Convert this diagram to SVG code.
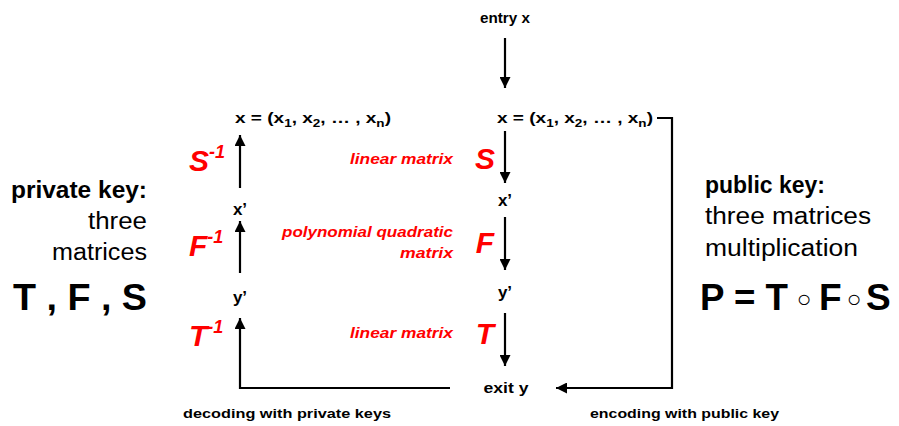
<svg xmlns="http://www.w3.org/2000/svg" width="899" height="426" viewBox="0 0 899 426">
<defs>
<style>
text{font-family:"Liberation Sans",Arial,sans-serif;}
.b{font-weight:bold;fill:#000;}
.lbl{font-size:15.5px;font-weight:bold;fill:#000;}
.pr{font-size:17px;font-weight:bold;fill:#000;}
.red{fill:#ff0000;font-weight:bold;font-style:italic;}
.rl{font-size:15px;}
.big{font-size:30px;}
.key{font-size:23px;}
.plain{font-size:23px;fill:#000;}
.huge{font-size:37px;font-weight:bold;fill:#000;}
.ring{font-size:24px;fill:#000;}
.cap{font-size:13.5px;font-weight:bold;fill:#000;}
.ln{stroke:#000;stroke-width:2.2;fill:none;}
</style>
<marker id="ah" viewBox="0 0 10 10" refX="10" refY="5" markerWidth="5" markerHeight="5" orient="auto" markerUnits="strokeWidth">
<path d="M0,0 L10,5 L0,10 z" fill="#000"/>
</marker>
</defs>
<rect width="899" height="426" fill="#fff"/>

<g id="connectors">
<line class="ln" x1="505" y1="38" x2="505" y2="88" marker-end="url(#ah)"/>
<line class="ln" x1="505" y1="131" x2="505" y2="183" marker-end="url(#ah)"/>
<line class="ln" x1="505" y1="217" x2="505" y2="270" marker-end="url(#ah)"/>
<line class="ln" x1="505" y1="313" x2="505" y2="366" marker-end="url(#ah)"/>
<polyline class="ln" points="657,118 672,118 672,388 556,388" marker-end="url(#ah)"/>
<polyline class="ln" points="450,388 240,388 240,318" marker-end="url(#ah)"/>
<line class="ln" x1="240" y1="273" x2="240" y2="221" marker-end="url(#ah)"/>
<line class="ln" x1="240" y1="188" x2="240" y2="135" marker-end="url(#ah)"/>
</g>

<g id="entry"><text class="lbl" x="505" y="23" text-anchor="middle" textLength="50" lengthAdjust="spacingAndGlyphs">entry x</text></g>
<g id="x-right"><text class="lbl" x="497" y="123" textLength="156" lengthAdjust="spacingAndGlyphs">x = (x<tspan font-size="11" dy="4">1</tspan><tspan dy="-4">, x</tspan><tspan font-size="11" dy="4">2</tspan><tspan dy="-4">, … , x</tspan><tspan font-size="11" dy="4">n</tspan><tspan dy="-4">)</tspan></text></g>
<g id="xp-right"><text class="pr" x="505" y="206" text-anchor="middle">x’</text></g>
<g id="yp-right"><text class="pr" x="505" y="298" text-anchor="middle">y’</text></g>
<g id="exit"><text class="lbl" x="506" y="393" text-anchor="middle" textLength="45" lengthAdjust="spacingAndGlyphs">exit y</text></g>

<g id="x-left"><text class="lbl" x="235" y="123" textLength="156" lengthAdjust="spacingAndGlyphs">x = (x<tspan font-size="11" dy="4">1</tspan><tspan dy="-4">, x</tspan><tspan font-size="11" dy="4">2</tspan><tspan dy="-4">, … , x</tspan><tspan font-size="11" dy="4">n</tspan><tspan dy="-4">)</tspan></text></g>
<g id="xp-left"><text class="pr" x="240" y="215" text-anchor="middle">x’</text></g>
<g id="yp-left"><text class="pr" x="240" y="303" text-anchor="middle">y’</text></g>

<g id="S"><text class="red big" x="485" y="169" text-anchor="middle">S</text></g>
<g id="F"><text class="red big" x="485" y="253" text-anchor="middle">F</text></g>
<g id="T"><text class="red big" x="485" y="344" text-anchor="middle">T</text></g>

<g id="lin1"><text class="red rl" x="453" y="164" text-anchor="end" textLength="103" lengthAdjust="spacingAndGlyphs">linear matrix</text></g>
<g id="poly"><text class="red rl" x="453" y="237" text-anchor="end" textLength="171" lengthAdjust="spacingAndGlyphs">polynomial quadratic</text>
<text class="red rl" x="453" y="258" text-anchor="end" textLength="53" lengthAdjust="spacingAndGlyphs">matrix</text></g>
<g id="lin2"><text class="red rl" x="453" y="338" text-anchor="end" textLength="103" lengthAdjust="spacingAndGlyphs">linear matrix</text></g>

<g id="Sinv"><text class="red big" x="189" y="171">S<tspan font-size="18" dy="-13">-1</tspan></text></g>
<g id="Finv"><text class="red big" x="189" y="256">F<tspan font-size="18" dy="-13">-1</tspan></text></g>
<g id="Tinv"><text class="red big" x="189" y="346">T<tspan font-size="18" dy="-13">-1</tspan></text></g>

<g id="private">
<text class="b key" x="147" y="198" text-anchor="end" textLength="136" lengthAdjust="spacingAndGlyphs">private key:</text>
<text class="plain" x="147" y="229" text-anchor="end" textLength="59" lengthAdjust="spacingAndGlyphs">three</text>
<text class="plain" x="147" y="260" text-anchor="end" textLength="95" lengthAdjust="spacingAndGlyphs">matrices</text>
<text class="huge" x="147" y="310" text-anchor="end" textLength="134" lengthAdjust="spacingAndGlyphs">T , F , S</text>
</g>

<g id="public">
<text class="b key" x="705" y="193" textLength="120" lengthAdjust="spacingAndGlyphs">public key:</text>
<text class="plain" x="705" y="224" textLength="166" lengthAdjust="spacingAndGlyphs">three matrices</text>
<text class="plain" x="705" y="256" textLength="153" lengthAdjust="spacingAndGlyphs">multiplication</text>
<text class="huge" x="700" y="310" textLength="88" lengthAdjust="spacingAndGlyphs">P = T</text>
<text class="ring" x="804" y="307" text-anchor="middle">○</text>
<text class="huge" x="819" y="310">F</text>
<text class="ring" x="854" y="307" text-anchor="middle">○</text>
<text class="huge" x="866" y="310">S</text>
</g>

<g id="cap-dec"><text class="cap" x="183" y="418" textLength="208" lengthAdjust="spacingAndGlyphs">decoding with private keys</text></g>
<g id="cap-enc"><text class="cap" x="590" y="418" textLength="189" lengthAdjust="spacingAndGlyphs">encoding with public key</text></g>
</svg>
